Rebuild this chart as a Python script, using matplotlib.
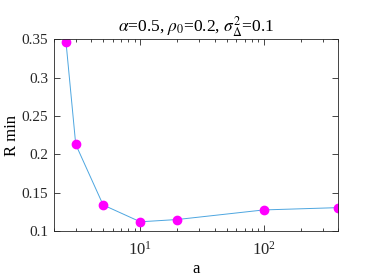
import matplotlib
matplotlib.use("Agg")
from matplotlib import pyplot as plt
from matplotlib.ticker import LogLocator, NullFormatter

a_vals = [2.5, 3, 5, 10, 20, 100, 400]
r_min = [0.347, 0.213, 0.134, 0.112, 0.115, 0.1275, 0.1305]
y_ticks = [0.1, 0.15, 0.2, 0.25, 0.3, 0.35]
y_labels = ["0.1", "0.15", "0.2", "0.25", "0.3", "0.35"]

plt.rcParams["font.family"] = ["Liberation Serif", "DejaVu Serif"]
plt.rcParams["mathtext.fontset"] = "stix"
plt.rcParams["font.size"] = 11

fig = plt.figure(figsize=(3.74, 2.8), dpi=100)
ax = fig.add_axes([0.1444, 0.175, 0.7593, 0.684])

ax.plot(a_vals, r_min, color="#4da6e0", lw=0.7, marker="o", markersize=6,
        markerfacecolor="magenta", markeredgecolor="magenta")

ax.set_xscale("log")
ax.set_xlim(2, 400)
ax.set_ylim(0.1, 0.35)
ax.set_yticks(y_ticks)
ax.set_yticklabels(y_labels)
ax.xaxis.set_minor_locator(LogLocator(base=10, subs=range(2, 10)))
ax.xaxis.set_minor_formatter(NullFormatter())

for s in ax.spines.values():
    s.set_color("#262626")
    s.set_linewidth(0.6)
ax.tick_params(which="both", direction="in", top=True, right=True,
               colors="#262626", labelcolor="#262626", width=0.6)
ax.tick_params(which="major", length=4)
ax.tick_params(which="minor", length=2)
ax.tick_params(axis="x", which="major", pad=7, labelsize=12)
ax.tick_params(axis="y", pad=4)

ax.set_xlabel("a", labelpad=2, fontsize=12)
ax.set_ylabel("R min", labelpad=1, fontsize=12)
ax.set_title(r"$\alpha$=0.5, $\rho_0$=0.2, $\sigma^2_\Delta$=0.1", fontsize=12.5, pad=6)

plt.savefig("out.png", dpi=100)
